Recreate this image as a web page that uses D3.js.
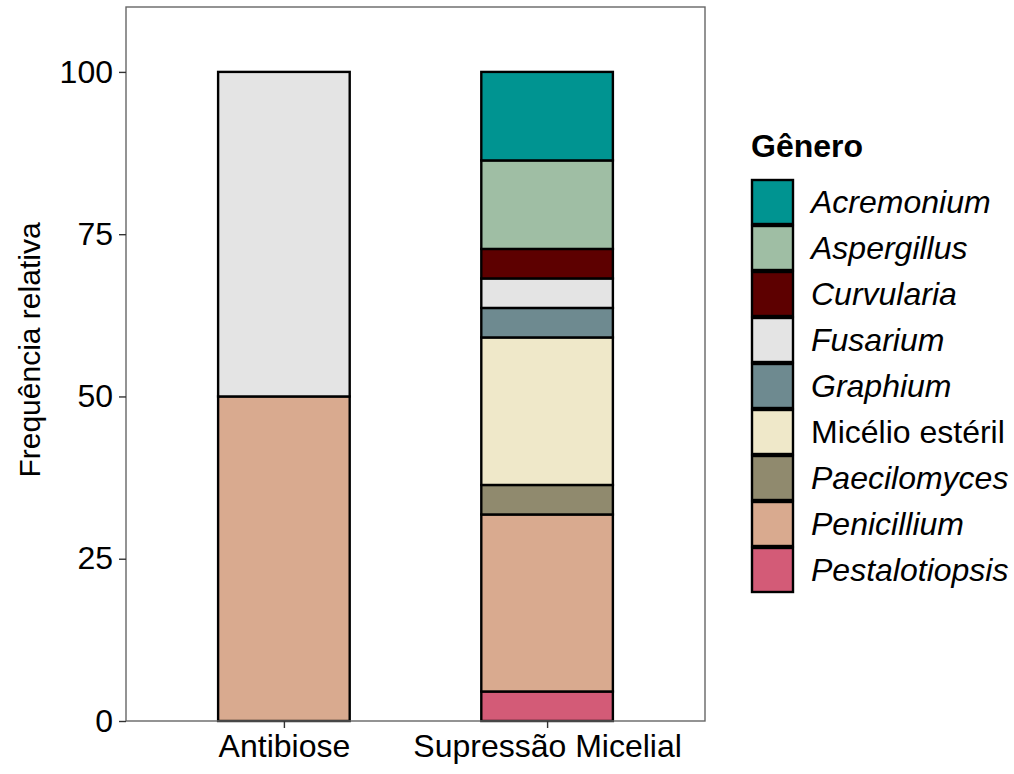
<!DOCTYPE html>
<html>
<head>
<meta charset="utf-8">
<script src="https://cdn.jsdelivr.net/npm/d3@7"></script>
<style>
  body { margin: 0; background: #fff; }
  text { font-family: "Liberation Sans", Arial, sans-serif; }
</style>
</head>
<body>
<div id="chart"></div>
<script>
// categories and genus order (bottom to top of the stack follows reverse order)
const tratamentos = ["Antibiose", "Supressão Micelial"];
const generos = ["Acremonium", "Aspergillus", "Curvularia", "Fusarium", "Graphium",
  "Micélio estéril", "Paecilomyces", "Penicillium", "Pestalotiopsis"];
const cores = ["#009491", "#9fbea4", "#5d0000", "#e4e4e4", "#6e8a90",
  "#efe8c9", "#908a6e", "#d9aa8f", "#d35b77"];
const italico = [true, true, true, true, true, false, true, true, true];
// isolate counts per genus
const antibiose = [0, 0, 0, 1, 0, 0, 0, 1, 0];
const supressao = [3, 3, 1, 1, 1, 5, 1, 6, 1];
const yTicks = [0, 25, 50, 75, 100];

const W = 1014, H = 774;
const panel = { left: 126, right: 705, top: 7, bottom: 721 };
const fs = "32px";

const svg = d3.select("#chart").append("svg")
  .attr("width", W).attr("height", H);

const x = d3.scaleLinear().domain([0.4, 2.6]).range([panel.left, panel.right]);
const y = d3.scaleLinear().domain([0, 110]).range([panel.bottom, panel.top]);
const color = d3.scaleOrdinal().domain(generos).range(cores);

// build stacked percentages
const linhas = [antibiose, supressao].map((vals, i) => {
  const total = d3.sum(vals);
  const row = { trat: tratamentos[i] };
  generos.forEach((g, j) => row[g] = vals[j] / total * 100);
  return row;
});
// ggplot stacks first factor level on top
const stack = d3.stack().keys(generos.slice().reverse());
const series = stack(linhas);

const barW = (x(1.25) - x(0.75));
svg.append("g").selectAll("g")
  .data(series).enter().append("g")
  .attr("fill", d => color(d.key))
  .selectAll("rect")
  .data(d => d.filter(p => p[1] - p[0] > 0))
  .enter().append("rect")
  .attr("x", (d) => x(tratamentos.indexOf(d.data.trat) + 1) - barW / 2)
  .attr("width", barW)
  .attr("y", d => y(d[1]))
  .attr("height", d => y(d[0]) - y(d[1]))
  .attr("stroke", "#000")
  .attr("stroke-width", 2.4);

// panel border
svg.append("rect")
  .attr("x", panel.left).attr("y", panel.top)
  .attr("width", panel.right - panel.left).attr("height", panel.bottom - panel.top)
  .attr("fill", "none").attr("stroke", "#666").attr("stroke-width", 1.4);

// y axis
const yAxis = svg.append("g").attr("transform", `translate(${panel.left},0)`)
  .call(d3.axisLeft(y).tickValues(yTicks).tickSize(7).tickPadding(6));
yAxis.select(".domain").remove();
yAxis.selectAll(".tick line").attr("stroke", "#333").attr("stroke-width", 1.4);
yAxis.selectAll(".tick text").attr("fill", "#000").style("font-size", fs)
  .style("font-family", "'Liberation Sans', Arial, sans-serif");

// x axis
const xAxis = svg.append("g").attr("transform", `translate(0,${panel.bottom})`)
  .call(d3.axisBottom(x).tickValues([1, 2]).tickFormat((d) => tratamentos[d - 1])
    .tickSize(7).tickPadding(6));
xAxis.select(".domain").remove();
xAxis.selectAll(".tick line").attr("stroke", "#333").attr("stroke-width", 1.4);
xAxis.selectAll(".tick text").attr("fill", "#000").style("font-size", fs)
  .style("font-family", "'Liberation Sans', Arial, sans-serif");

// y title
svg.append("text")
  .attr("transform", "translate(40,350) rotate(-90)")
  .attr("text-anchor", "middle")
  .style("font-size", "30px")
  .text("Frequência relativa");

// legend
const leg = svg.append("g").attr("transform", "translate(751,0)");
leg.append("text").attr("x", 0).attr("y", 157)
  .style("font-size", fs).style("font-weight", "bold").text("Gênero");
const keyH = 46;
const item = leg.selectAll("g.item").data(generos).enter().append("g")
  .attr("class", "item")
  .attr("transform", (d, i) => `translate(0,${179 + i * keyH})`);
item.append("rect")
  .attr("x", 1).attr("y", 1).attr("width", 41).attr("height", keyH - 2)
  .attr("fill", d => color(d)).attr("stroke", "#000").attr("stroke-width", 2.4);
item.append("text")
  .attr("x", 60).attr("y", keyH / 2 + 11)
  .style("font-size", fs)
  .style("font-style", (d, i) => italico[i] ? "italic" : "normal")
  .text(d => d);
</script>
</body>
</html>
